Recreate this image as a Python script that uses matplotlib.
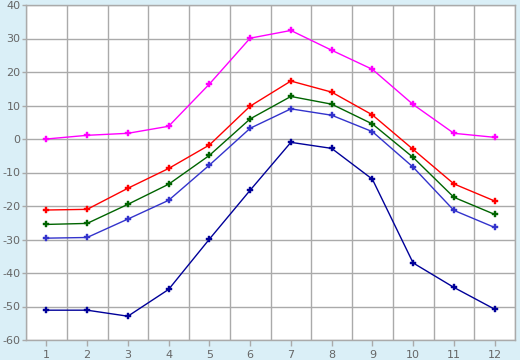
import matplotlib.pyplot as plt
import numpy as np

# months
months = np.arange(1, 13)

# series values
s_magenta = [0.0, 1.1, 1.7, 3.8, 16.4, 30.1, 32.4, 26.5, 20.8, 10.3, 1.7, 0.5]
s_red = [-21.2, -21.0, -14.7, -8.8, -1.8, 9.8, 17.3, 14.0, 7.2, -3.1, -13.4, -18.5]
s_green = [-25.5, -25.2, -19.5, -13.5, -4.9, 6.0, 12.7, 10.4, 4.5, -5.5, -17.4, -22.5]
s_blue = [-29.6, -29.4, -23.9, -18.3, -7.8, 3.2, 9.0, 7.1, 2.2, -8.4, -21.3, -26.4]
s_navy = [-51.1, -51.1, -52.9, -44.9, -29.9, -15.3, -1.0, -2.8, -12.0, -37.0, -44.3, -50.8]

y_ticks = np.arange(-60, 41, 10)

bg = '#daeff7'
grid_c = '#aaaaaa'
txt_c = '#666666'

plt.rcParams['axes.unicode_minus'] = False

fig = plt.figure(figsize=(5.2, 3.6), dpi=100, facecolor=bg)
ax = fig.add_axes([26/520, 20/360, 489/520, 335/360])
ax.set_facecolor('white')

series = [(s_magenta, '#ff00ff'), (s_red, '#ff0000'), (s_green, '#006400'),
          (s_blue, '#3333cc'), (s_navy, '#000099')]
for vals, col in series:
    ax.plot(months, vals, color=col, lw=1, marker='P', ms=5,
            markeredgewidth=0.3, zorder=3)

ax.set_xlim(0.5, 12.5)
ax.set_ylim(-60, 40)
ax.set_xticks(months)
ax.set_xticks(np.arange(0.5, 12.6, 1), minor=True)
ax.set_yticks(y_ticks)

ax.grid(False)
ax.grid(True, axis='x', which='minor', color=grid_c, lw=1)
ax.grid(True, axis='y', which='major', color=grid_c, lw=1)
ax.set_axisbelow(True)

for sp in ax.spines.values():
    sp.set_color(grid_c)
    sp.set_linewidth(1)

ax.tick_params(axis='both', which='major', colors=grid_c, labelcolor=txt_c,
               labelsize=8, length=4, width=1, direction='out', pad=3)
ax.tick_params(axis='y', which='major', length=3, pad=1)
ax.tick_params(axis='x', which='minor', length=0)

plt.savefig('out.png', dpi=100, facecolor=bg)
